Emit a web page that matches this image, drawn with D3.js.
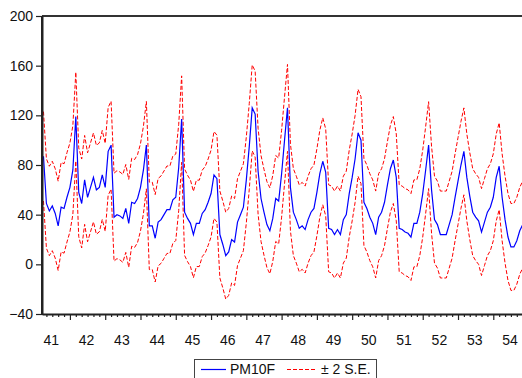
<!DOCTYPE html>
<html><head><meta charset="utf-8">
<script src="https://cdn.jsdelivr.net/npm/d3@7"></script>
<style>
html,body{margin:0;padding:0;background:#fff;overflow:hidden}
svg{display:block;font-family:"Liberation Sans",Arial,Helvetica,sans-serif}
</style></head><body>
<svg id="chart" width="522" height="378"></svg>
<script>
// ---- data (monthly, starting 41M04) ----
const startYear = 41;
const startMonth = 4;
const yearLabels = ["41","42","43","44","45","46","47","48","49","50","51","52","53","54"];
const yTicks = [-40, 0, 40, 80, 120, 160, 200];
const pm10f = [
  87,49,43,47,41,31,46,45,54,                 // 41 (Apr-Dec)
  62,76,119,58,49,68,54,62,70,60,62,72,        // 42
  62,91,96,38,40,39,37,45,33,50,49,53,         // 43
  62,76,96,31,31,21,34,36,40,44,44,52,         // 44
  54,78,117,42,37,33,24,33,33,41,44,50,        // 45
  57,72,69,24,16,7,10,20,18,34,40,46,          // 46
  68,95,126,121,75,53,42,32,27,37,53,51,       // 47
  73,100,126,62,42,36,29,31,28,36,42,45,       // 48
  58,73,83,74,29,28,24,28,24,36,40,57,         // 49
  70,85,106,100,50,45,38,33,24,38,42,50,       // 50
  64,77,84,70,29,28,26,25,22,33,33,42,         // 51
  57,76,96,60,36,32,24,24,24,32,40,54,         // 52
  67,80,91,70,55,42,38,35,26,34,42,46,         // 53
  54,70,79,54,36,22,14,14,19,27,32,36          // 54
];
// standard error of the forecast, per year 41..54
const seByYear = [18.0,17.9,17.7,17.6,17.4,17.5,17.3,17.5,17.5,17.5,17.5,17.5,17.5,17.5];
const seriesNames = ["PM10F", "\u00B1 2 S.E."];

// ---- layout ----
const svg = d3.select("#chart");
const padL = 42, padT = 16, padB = 314;
const monthPx = 2.94;
const n = pm10f.length;

const x = d3.scaleLinear().domain([-0.5, n - 0.5]).range([padL, padL + n * monthPx]);
const y = d3.scaleLinear().domain([-40, 200]).range([padB, padT]);

const pts = pm10f.map((v, i) => {
  const yi = Math.floor((i + startMonth - 1) / 12);
  const se = seByYear[yi];
  return {i, v, up: v + 2 * se, lo: v - 2 * se};
});

// top frame line
svg.append("line").attr("x1", padL).attr("x2", 540).attr("y1", padT).attr("y2", padT)
  .attr("stroke", "#333").attr("stroke-width", 2);

// series
const lineOf = key => d3.line().x(d => x(d.i)).y(d => y(d[key]));
svg.append("path").datum(pts).attr("d", lineOf("up")).attr("fill", "none")
  .attr("stroke", "#ff0000").attr("stroke-width", 1).attr("stroke-dasharray", "4,2");
svg.append("path").datum(pts).attr("d", lineOf("lo")).attr("fill", "none")
  .attr("stroke", "#ff0000").attr("stroke-width", 1).attr("stroke-dasharray", "4,2");
svg.append("path").datum(pts).attr("d", lineOf("v")).attr("fill", "none")
  .attr("stroke", "#0000ff").attr("stroke-width", 1.2);

// y axis
const ya = svg.append("g").attr("transform", `translate(${padL},0)`)
  .call(d3.axisLeft(y).tickValues(yTicks).tickSize(6).tickPadding(3).tickSizeOuter(0));
ya.select(".domain").attr("stroke", "#222").attr("stroke-width", 2);
ya.selectAll(".tick line").attr("stroke", "#222").attr("stroke-width", 1.2);
ya.selectAll("text").attr("font-size", 14).attr("fill", "#111")
  .attr("font-family", '"Liberation Sans",Arial,sans-serif');

// x axis: minor ticks every 2 months, major ticks at January, labels mid-year
const monthIdx = d3.range(0, n);
const janIdx = monthIdx.filter(i => (i + startMonth - 1) % 12 === 0);
const minorIdx = monthIdx.filter(i => (i + startMonth - 1) % 2 === 0 && (i + startMonth - 1) % 12 !== 0);
const labelIdx = yearLabels.map((s, k) => 12 * k - (startMonth - 1) + 5.5);

const xg = svg.append("g").attr("transform", `translate(0,${padB})`);
xg.append("g").call(d3.axisBottom(x).tickValues(minorIdx).tickSize(3).tickSizeOuter(0).tickFormat(""));
const xMajor = xg.append("g").call(d3.axisBottom(x).tickValues(janIdx).tickSize(6).tickSizeOuter(0).tickFormat(""));
xMajor.select(".domain").remove();
const xLab = xg.append("g").call(d3.axisBottom(x).tickValues(labelIdx).tickSize(0).tickPadding(21)
  .tickFormat((d, k) => yearLabels[k]));
xLab.select(".domain").remove();
xg.selectAll(".domain").attr("stroke", "#222").attr("stroke-width", 2);
xg.selectAll(".tick line").attr("stroke", "#222").attr("stroke-width", 1.2);
xLab.selectAll("text").attr("font-size", 14).attr("fill", "#111")
  .attr("font-family", '"Liberation Sans",Arial,sans-serif');
// left axis line drawn again to cover the corner cleanly
svg.append("line").attr("x1", padL).attr("x2", padL).attr("y1", padT).attr("y2", padB + 1)
  .attr("stroke", "#222").attr("stroke-width", 2);

// legend
const lg = svg.append("g");
lg.append("rect").attr("x", 194.5).attr("y", 359.5).attr("width", 182).attr("height", 30)
  .attr("fill", "#fff").attr("stroke", "#444").attr("stroke-width", 1);
lg.append("line").attr("x1", 201).attr("x2", 226).attr("y1", 369.5).attr("y2", 369.5)
  .attr("stroke", "#0000ff").attr("stroke-width", 1.2);
lg.append("text").attr("x", 230).attr("y", 374).attr("font-size", 14).attr("fill", "#111").text(seriesNames[0]);
lg.append("line").attr("x1", 287).attr("x2", 315).attr("y1", 369.5).attr("y2", 369.5)
  .attr("stroke", "#ff0000").attr("stroke-width", 1).attr("stroke-dasharray", "4,2");
lg.append("text").attr("x", 321).attr("y", 374).attr("font-size", 14).attr("fill", "#111").text(seriesNames[1]);
</script>
</body></html>
